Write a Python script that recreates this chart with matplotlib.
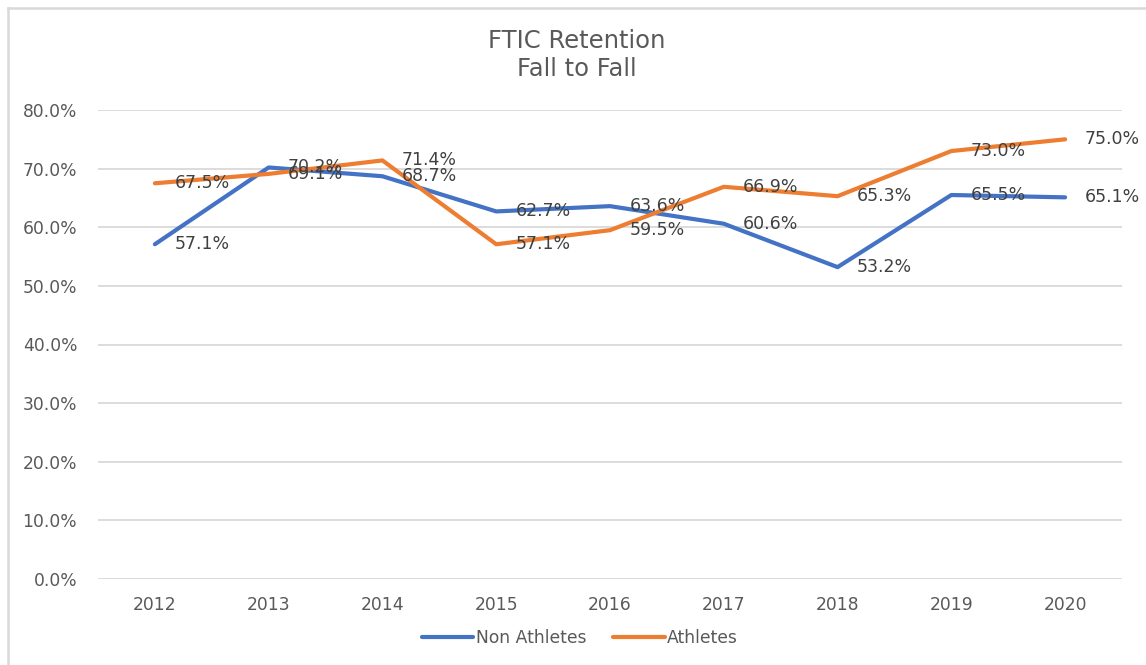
import matplotlib
matplotlib.use("Agg")
import matplotlib.pyplot as plt
from matplotlib.lines import Line2D
from matplotlib.ticker import PercentFormatter

years = ["2012", "2013", "2014", "2015", "2016", "2017", "2018", "2019", "2020"]
non_athletes = [57.1, 70.2, 68.7, 62.7, 63.6, 60.6, 53.2, 65.5, 65.1]
athletes = [67.5, 69.1, 71.4, 57.1, 59.5, 66.9, 65.3, 73.0, 75.0]
series_names = ["Non Athletes", "Athletes"]
colors = ["#4472C4", "#ED7D31"]
title = "FTIC Retention\nFall to Fall"

W, H = 1146, 665
fig = plt.figure(figsize=(W / 100, H / 100), dpi=100)
fig.patch.set_facecolor("white")
ax = fig.add_axes([98 / W, 1 - 579 / H, (1122 - 98) / W, (579 - 110) / H])

x = list(range(len(years)))
lines = []
for vals, name, c in zip([non_athletes, athletes], series_names, colors):
    ln, = ax.plot(x, vals, color=c, lw=3.0, solid_joinstyle="round",
                  solid_capstyle="round", label=name, zorder=3)
    lines.append(ln)
    for xi, v in zip(x, vals):
        ax.annotate(f"{v:.1f}%", (xi, v), xytext=(14, 0), textcoords="offset points",
                    ha="left", va="center", fontsize=12.5, color="#404040", zorder=4)

ax.set_xlim(-0.5, len(years) - 0.5)
ax.set_ylim(0, 80)
ax.set_yticks(range(0, 81, 10))
ax.yaxis.set_major_formatter(PercentFormatter(decimals=1))
ax.set_xticks(x)
ax.set_xticklabels(years)
ax.tick_params(axis="both", length=0, labelsize=12.3, labelcolor="#595959")
ax.tick_params(axis="y", pad=15)
ax.tick_params(axis="x", pad=12)
ax.grid(axis="y", color="#D9D9D9", lw=1.3, zorder=0)
for s in ax.spines.values():
    s.set_visible(False)
ax.set_facecolor("none")

fig.text(577 / W, 1 - 55 / H, title, ha="center", va="center", fontsize=17.5,
         color="#595959", linespacing=1.25)

leg = fig.legend(handles=lines, labels=series_names, loc="center",
                 bbox_to_anchor=(580 / W, 1 - 638 / H), ncol=2, frameon=False,
                 fontsize=12.3, handlelength=3.0, handletextpad=0.15, columnspacing=1.6)
for t in leg.get_texts():
    t.set_color("#595959")

# outer chart border (left and top visible)
fig.add_artist(Line2D([7.5 / W, 7.5 / W], [0, 1 - 7.5 / H], transform=fig.transFigure,
                      color="#D9D9D9", lw=1.8))
fig.add_artist(Line2D([7.5 / W, 1], [1 - 7.5 / H, 1 - 7.5 / H], transform=fig.transFigure,
                      color="#D9D9D9", lw=1.8))

fig.savefig("out.png", dpi=100, facecolor="white")
